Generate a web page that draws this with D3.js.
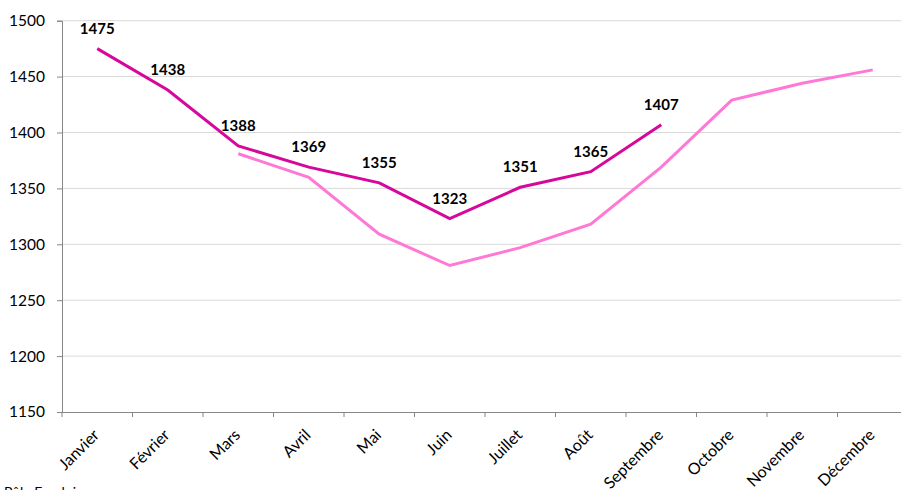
<!DOCTYPE html>
<html><head><meta charset="utf-8">
<script src="https://cdn.jsdelivr.net/npm/d3@7"></script>
<style>body{margin:0;background:#fff;} svg{display:block;font-family:Lato,"Open Sans",sans-serif;}</style>
</head><body>
<svg id="c" width="901" height="490"></svg>
<script>
const months = ["Janvier","Février","Mars","Avril","Mai","Juin","Juillet","Août","Septembre","Octobre","Novembre","Décembre"];
const current = [1475,1438,1388,1369,1355,1323,1351,1365,1407,null,null,null];
const previous = [null,null,1381,1360,1309,1281,1297,1318,1369,1429,1444,1456];
const yTicks = [1150,1200,1250,1300,1350,1400,1450,1500];

(function(){
const svg = d3.select("#c");
const pLeft = 62, pRight = 908, pTop = 20.7, pBottom = 412;
const x = d3.scaleBand().domain(months).range([pLeft, pRight]);
const y = d3.scaleLinear().domain([1150,1500]).range([pBottom, pTop]);
const cx = m => x(m) + x.bandwidth()/2;

svg.append("g").selectAll("line").data(yTicks.filter(d=>d>1150)).join("line")
  .attr("x1", pLeft).attr("x2", pRight).attr("y1", d=>y(d)).attr("y2", d=>y(d))
  .attr("stroke", "#d9d9d9").attr("stroke-width", 1);

const yAxis = svg.append("g").attr("transform", `translate(${pLeft},0)`)
  .call(d3.axisLeft(y).tickValues(yTicks).tickSize(5).tickPadding(12).tickFormat(d3.format("d")));
yAxis.select(".domain").attr("stroke", "#868686");
yAxis.selectAll(".tick line").attr("stroke", "#868686");
yAxis.selectAll("text").attr("font-size", 15.5).attr("fill", "#000").attr("font-family","Lato,'Open Sans',sans-serif");

const xAxis = svg.append("g").attr("transform", `translate(0,${pBottom})`)
  .call(d3.axisBottom(x).tickSize(0).tickFormat(""));
xAxis.select(".domain").attr("stroke", "#868686");
svg.append("g").selectAll("line").data(d3.range(months.length+1)).join("line")
  .attr("x1", i=>pLeft + i*x.bandwidth()).attr("x2", i=>pLeft + i*x.bandwidth())
  .attr("y1", pBottom).attr("y2", pBottom+5).attr("stroke", "#868686");
svg.append("g").selectAll("text").data(months).join("text")
  .attr("transform", m=>`translate(${cx(m)+3},${pBottom+24}) rotate(-45)`)
  .attr("text-anchor", "end").attr("font-size", 16).attr("fill", "#000").text(m=>m);

const line = d3.line().defined(d=>d[1]!=null).x(d=>cx(d[0])).y(d=>y(d[1]));
svg.append("path").datum(months.map((m,i)=>[m,previous[i]]))
  .attr("d", line).attr("fill","none").attr("stroke","#ff78d6").attr("stroke-width",3);
svg.append("path").datum(months.map((m,i)=>[m,current[i]]))
  .attr("d", line).attr("fill","none").attr("stroke","#d6079a").attr("stroke-width",3);

svg.append("g").selectAll("text").data(months.map((m,i)=>[m,current[i]]).filter(d=>d[1]!=null)).join("text")
  .attr("x", d=>cx(d[0])).attr("y", d=>y(d[1])-15)
  .attr("text-anchor","middle").attr("font-size",15).attr("font-weight","bold").attr("fill","#000")
  .text(d=>d[1]);

svg.append("text").attr("x", 4).attr("y", 497).attr("font-size", 14).attr("fill","#000").text("Pôle Emploi");
})();
</script>
</body></html>
